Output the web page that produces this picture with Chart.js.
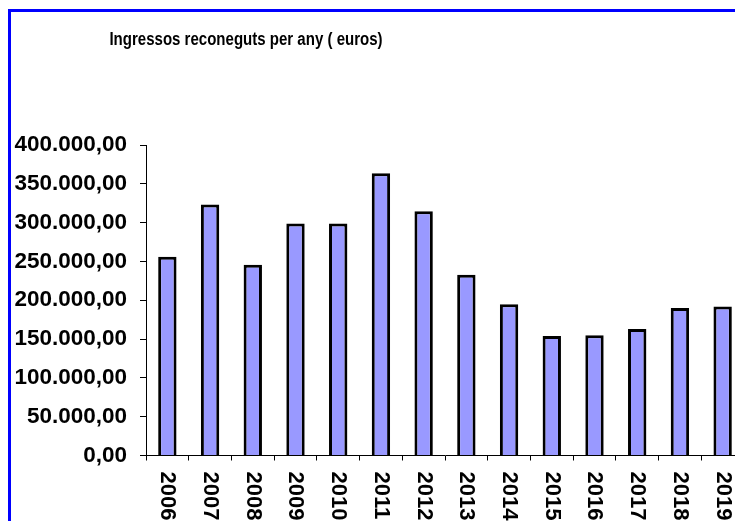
<!DOCTYPE html>
<html>
<head>
    <title>Ingressos reconeguts per any</title>
    <script src="https://cdn.jsdelivr.net/npm/chart.js"></script>
    <style>
        body {
            margin: 0;
            background: #ffffff;
            overflow: hidden;
        }
        #frame {
            position: absolute;
            left: 8px;
            top: 9px;
            width: 800px;
            height: 600px;
            border-left: 3px solid #0000ff;
            border-top: 3px solid #0000ff;
        }
        #wrap {
            position: absolute;
            left: 0;
            top: 0;
            width: 744px;
            height: 521px;
        }
    </style>
</head>
<body>
<div id="frame"></div>
<div id="wrap"><canvas id="ingressosChart"></canvas></div>

<script>
    const chartTitle = 'Ingressos reconeguts per any ( euros)';
    const years = ['2006', '2007', '2008', '2009', '2010', '2011', '2012',
                   '2013', '2014', '2015', '2016', '2017', '2018', '2019'];
    const ingressos = [256000, 323500, 245700, 299000, 299000, 363600, 314500,
                       233000, 194700, 154000, 154800, 163000, 190000, 191800];
    const yTicks = [0, 50000, 100000, 150000, 200000, 250000, 300000, 350000, 400000];

    const fontFamily = "'Liberation Sans', Arial, sans-serif";

    // 400000 -> "400.000,00"
    function formatEuros(v) {
        const s = Math.round(v).toString().replace(/\B(?=(\d{3})+(?!\d))/g, '.');
        return s + ',00';
    }

    // title + rotated year labels (reading top to bottom)
    const labelsPlugin = {
        id: 'labelsPlugin',
        afterDraw(chart) {
            const ctx = chart.ctx;
            const xScale = chart.scales.x;
            ctx.save();
            ctx.fillStyle = '#000';
            // narrow-looking title: squeeze the bold face horizontally
            ctx.save();
            ctx.translate(246, 45);
            ctx.scale(0.835, 1);
            ctx.font = 'bold 18px ' + fontFamily;
            ctx.textAlign = 'center';
            ctx.textBaseline = 'alphabetic';
            ctx.fillText(chartTitle, 0, 0);
            ctx.restore();

            ctx.font = 'bold 22px ' + fontFamily;
            ctx.textAlign = 'left';
            ctx.textBaseline = 'middle';
            years.forEach((y, i) => {
                const x = xScale.getPixelForValue(i);
                ctx.save();
                ctx.translate(x, xScale.top + 16);
                ctx.rotate(Math.PI / 2);
                ctx.fillText(y, 0, 0);
                ctx.restore();
            });
            ctx.restore();
        }
    };

    const ctx = document.getElementById('ingressosChart').getContext('2d');
    new Chart(ctx, {
        type: 'bar',
        data: {
            labels: years,
            datasets: [{
                label: chartTitle,
                data: ingressos,
                backgroundColor: '#9999ff',
                borderColor: '#000000',
                borderWidth: 3,
                barPercentage: 0.43,
                categoryPercentage: 1
            }]
        },
        options: {
            responsive: true,
            maintainAspectRatio: false,
            animation: false,
            layout: {
                padding: { top: 145, left: 0, right: 0, bottom: 0 }
            },
            plugins: {
                legend: { display: false },
                title: { display: false },
                tooltip: { enabled: false }
            },
            scales: {
                x: {
                    offset: true,
                    grid: {
                        offset: true,
                        drawOnChartArea: false,
                        tickLength: 5,
                        color: '#000'
                    },
                    border: { color: '#000', width: 1 },
                    ticks: { display: false },
                    afterFit(scale) { scale.height = 65.5; }
                },
                y: {
                    min: 0,
                    max: 400000,
                    afterBuildTicks(scale) {
                        scale.ticks = yTicks.map(v => ({ value: v }));
                    },
                    grid: {
                        drawOnChartArea: false,
                        tickLength: 6,
                        color: '#000'
                    },
                    border: { color: '#000', width: 1 },
                    ticks: {
                        color: '#000',
                        padding: 13,
                        font: { family: fontFamily, size: 22.5, weight: 'bold' },
                        callback: v => formatEuros(v)
                    },
                    afterFit(scale) { scale.width = 146; }
                }
            }
        },
        plugins: [labelsPlugin]
    });
</script>
</body>
</html>
